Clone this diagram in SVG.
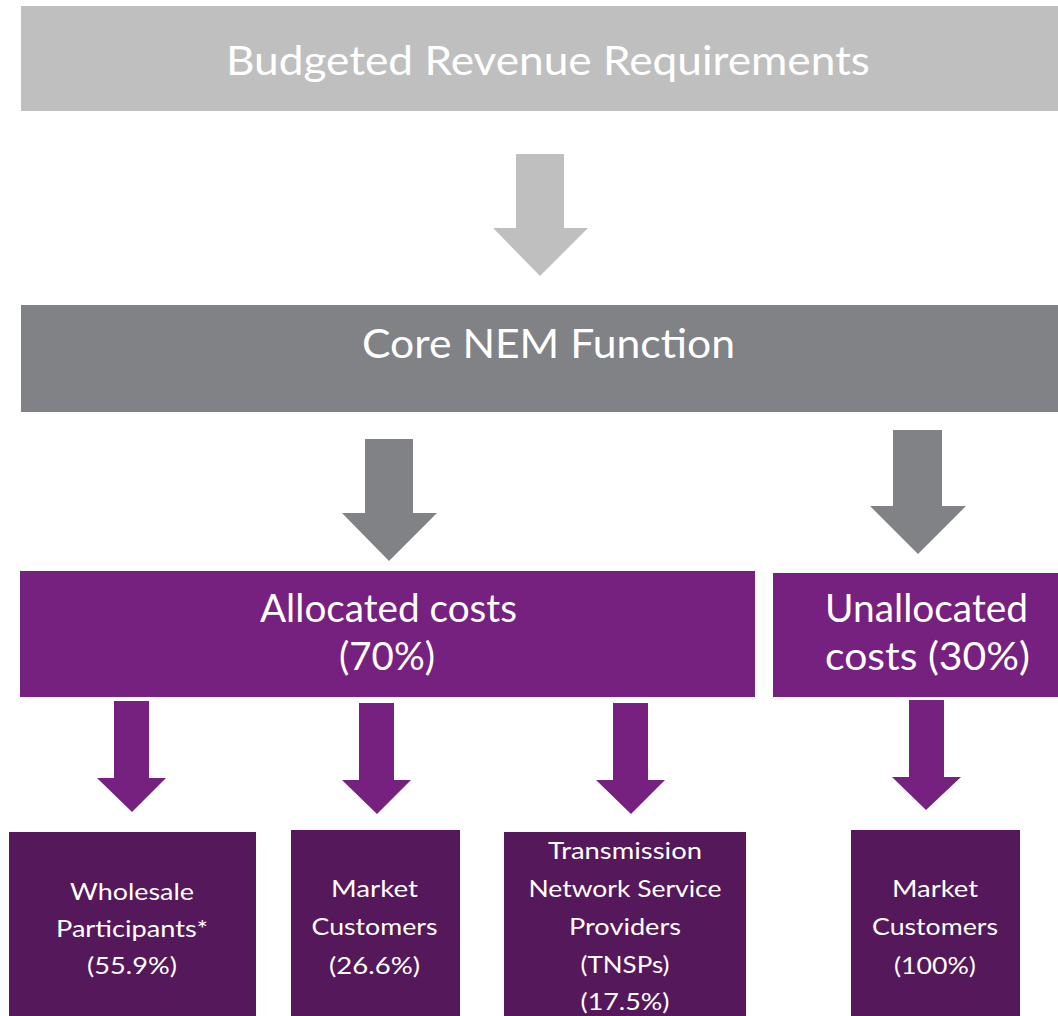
<svg xmlns="http://www.w3.org/2000/svg" width="1058" height="1016" viewBox="0 0 1058 1016">
<style>
.t{font-family:Lato,"Open Sans","Liberation Sans",sans-serif;fill:#ffffff;text-anchor:middle}
.big{font-size:40px}
.mid{font-size:38px}
.sm{font-size:24px}
.lg{fill:#BFBFBF}
.dg{fill:#808285}
.pu{fill:#76217F}
.dp{fill:#55185A}
</style>
<rect width="1058" height="1016" fill="#ffffff"/>
<g id="connectors">
<polygon class="lg" points="516,154 564,154 564,228 588,228 540,276 493,228 516,228"/>
<polygon class="dg" points="365,439 413,439 413,513 437,513 389,561 342,513 365,513"/>
<polygon class="dg" points="893,430 942,430 942,506 966,506 918,554 870,506 893,506"/>
<polygon class="pu" points="114,701 149,701 149,778 166,778 132,812 97,778 114,778"/>
<polygon class="pu" points="359,703 394,703 394,780 411,780 377,814 342,780 359,780"/>
<polygon class="pu" points="613,703 648,703 648,780 665,780 631,814 596,780 613,780"/>
<polygon class="pu" points="909,700 944,700 944,777 961,777 926,810 892,777 909,777"/>
</g>
<g id="budgeted">
<rect class="lg" x="21" y="6" width="1037" height="105"/>
<text class="t big" x="548" y="75" textLength="644" lengthAdjust="spacingAndGlyphs">Budgeted Revenue Requirements</text>
</g>
<g id="core">
<rect class="dg" x="21" y="305" width="1037" height="107"/>
<text class="t big" x="548.5" y="358" textLength="373" lengthAdjust="spacingAndGlyphs">Core NEM Function</text>
</g>
<g id="allocated">
<rect class="pu" x="20" y="571" width="735" height="126"/>
<text class="t mid" x="388.5" y="622" textLength="257" lengthAdjust="spacingAndGlyphs">Allocated costs</text>
<text class="t mid" x="387" y="670" textLength="96" lengthAdjust="spacingAndGlyphs">(70%)</text>
</g>
<g id="unallocated">
<rect class="pu" x="773" y="573" width="285" height="124"/>
<text class="t mid" x="926.5" y="622" textLength="203" lengthAdjust="spacingAndGlyphs">Unallocated</text>
<text class="t mid" x="927.5" y="670" textLength="205" lengthAdjust="spacingAndGlyphs">costs (30%)</text>
</g>
<g id="wholesale">
<rect class="dp" x="9" y="832" width="247" height="184"/>
<text class="t sm" x="132" y="900" textLength="124" lengthAdjust="spacingAndGlyphs">Wholesale</text>
<text class="t sm" x="132" y="937" textLength="152" lengthAdjust="spacingAndGlyphs">Participants*</text>
<text class="t sm" x="132" y="974" textLength="90" lengthAdjust="spacingAndGlyphs">(55.9%)</text>
</g>
<g id="market1">
<rect class="dp" x="291" y="830" width="169" height="186"/>
<text class="t sm" x="374.5" y="897" textLength="87" lengthAdjust="spacingAndGlyphs">Market</text>
<text class="t sm" x="374.5" y="935" textLength="126" lengthAdjust="spacingAndGlyphs">Customers</text>
<text class="t sm" x="374.5" y="974" textLength="91" lengthAdjust="spacingAndGlyphs">(26.6%)</text>
</g>
<g id="tnsp">
<rect class="dp" x="504" y="832" width="242" height="184"/>
<text class="t sm" x="625" y="859" textLength="154" lengthAdjust="spacingAndGlyphs">Transmission</text>
<text class="t sm" x="625" y="897" textLength="193" lengthAdjust="spacingAndGlyphs">Network Service</text>
<text class="t sm" x="625" y="935" textLength="112" lengthAdjust="spacingAndGlyphs">Providers</text>
<text class="t sm" x="625" y="973" textLength="89" lengthAdjust="spacingAndGlyphs">(TNSPs)</text>
<text class="t sm" x="625" y="1010" textLength="89" lengthAdjust="spacingAndGlyphs">(17.5%)</text>
</g>
<g id="market2">
<rect class="dp" x="851" y="830" width="169" height="186"/>
<text class="t sm" x="935" y="897" textLength="86" lengthAdjust="spacingAndGlyphs">Market</text>
<text class="t sm" x="935" y="935" textLength="126" lengthAdjust="spacingAndGlyphs">Customers</text>
<text class="t sm" x="935" y="974" textLength="82" lengthAdjust="spacingAndGlyphs">(100%)</text>
</g>
</svg>
